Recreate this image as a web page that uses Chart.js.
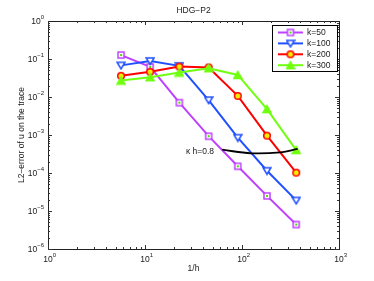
<!DOCTYPE html>
<html>
<head>
<meta charset="utf-8">
<script src="https://cdn.jsdelivr.net/npm/chart.js@4.4.0/dist/chart.umd.min.js"></script>
<style>
  html, body { margin: 0; padding: 0; background: #fff; }
  #wrap { width: 374px; height: 281px; }
</style>
</head>
<body>
<div id="wrap"><canvas id="chart" width="374" height="281"></canvas></div>
<script>
// 1/h values (mesh refinement)
const invH = [5.66, 11.3, 22.6, 45.3, 90.5, 181, 362];
// L2 error of u on the trace, per wavenumber
const errK50 = [0.127, 0.062, 0.0071, 0.00093, 0.00015, 0.000025, 0.0000044];
const errK100 = [0.068, 0.089, 0.066, 0.0083, 0.00085, 0.000115, 0.000019];
const errK200 = [0.036, 0.046, 0.063, 0.060, 0.0107, 0.00096, 0.000102];
const errK300 = [0.027, 0.033, 0.044, 0.057, 0.038, 0.0048, 0.00040];
// kappa*h = 0.8 curve
const khX = [62.5, 125, 250, 375];
const khY = [0.00041, 0.00033, 0.00035, 0.00043];
const seriesNames = ["k=50", "k=100", "k=200", "k=300"];
const xTicks = [1, 10, 100, 1000];
const yTicks = [1e-6, 1e-5, 1e-4, 1e-3, 1e-2, 1e-1, 1];

const FONT = "Liberation Sans, Arial, Helvetica, sans-serif";
const TXT = "#1a1a1a";

// marker images, MATLAB-ish
function makeMarker(kind) {
  const c = document.createElement("canvas");
  c.width = 10; c.height = 10;
  const g = c.getContext("2d");
  g.lineWidth = 1.5;
  if (kind == "square") {
    g.fillStyle = "#fff";
    g.fillRect(2, 2, 6, 6);
    g.strokeStyle = "#bf40ff";
    g.strokeRect(2, 2, 6, 6);
    g.fillStyle = "#50e000";
    g.fillRect(4, 4, 2, 2);
  } else if (kind == "down") {
    g.beginPath();
    g.moveTo(1, 2); g.lineTo(9, 2); g.lineTo(5, 8.5); g.closePath();
    g.fillStyle = "#fff"; g.fill();
    g.strokeStyle = "#2050ff"; g.stroke();
  } else if (kind == "circle") {
    g.beginPath();
    g.arc(5, 5, 3.3, 0, Math.PI * 2);
    g.fillStyle = "#f0f000"; g.fill();
    g.strokeStyle = "#ff0000"; g.stroke();
  } else {
    g.beginPath();
    g.moveTo(1, 8.5); g.lineTo(9, 8.5); g.lineTo(5, 1.5); g.closePath();
    g.fillStyle = "#70ff10"; g.fill();
    g.strokeStyle = "#70ff10"; g.stroke();
  }
  return c;
}
const markers = [makeMarker("square"), makeMarker("down"), makeMarker("circle"), makeMarker("up")];
const colors = ["#bf40ff", "#2050ff", "#ff0000", "#70ff10"];
const allErr = [errK50, errK100, errK200, errK300];

const toPts = (xs, ys) => xs.map((x, i) => ({ x: x, y: ys[i] }));

const datasets = allErr.map((ys, i) => ({
  label: seriesNames[i],
  data: toPts(invH, ys),
  borderColor: colors[i],
  borderWidth: 2,
  pointStyle: markers[i],
  pointRadius: 4,
  order: 4 - i,
}));
datasets.push({
  label: "kh",
  data: toPts(khX, khY),
  borderColor: "#000",
  borderWidth: 1.8,
  pointRadius: 0,
  tension: 0.4,
  order: 0,
});

// draws 10^e with a raised exponent
function drawPow(ctx, e, x, y, mode) {
  const base = "10";
  const ex = e < 0 ? "\u2212" + (-e) : String(e);
  ctx.font = "8.5px " + FONT;
  const wb = ctx.measureText(base).width;
  ctx.font = "6px " + FONT;
  const we = ctx.measureText(ex).width;
  let x0;
  if (mode == "right") x0 = x - wb - we;
  else x0 = x - wb / 2;
  ctx.textAlign = "left";
  ctx.textBaseline = "middle";
  ctx.font = "8.5px " + FONT;
  ctx.fillText(base, x0, y);
  ctx.font = "6px " + FONT;
  ctx.fillText(ex, x0 + wb, y - 4);
}

const matlabAxes = {
  id: "matlabAxes",
  afterDraw(chart) {
    const ctx = chart.ctx;
    const a = chart.chartArea;
    const xs = chart.scales.x, ys = chart.scales.y;
    ctx.save();
    // box
    ctx.strokeStyle = "#222";
    ctx.lineWidth = 1;
    ctx.strokeRect(Math.round(a.left) + 0.5, Math.round(a.top) + 0.5, Math.round(a.right - a.left), Math.round(a.bottom - a.top));
    // inside ticks, major and minor
    ctx.strokeStyle = "#333";
    ctx.beginPath();
    for (let d = 0; d < 3; d++) {
      for (let m = 1; m < 10; m++) {
        const v = Math.pow(10, d) * m;
        const px = Math.round(xs.getPixelForValue(v)) + 0.5;
        const len = m == 1 ? 4 : 2;
        ctx.moveTo(px, a.bottom); ctx.lineTo(px, a.bottom - len);
        ctx.moveTo(px, a.top); ctx.lineTo(px, a.top + len);
      }
    }
    for (let d = -6; d < 0; d++) {
      for (let m = 1; m < 10; m++) {
        const v = Math.pow(10, d) * m;
        const py = Math.round(ys.getPixelForValue(v)) + 0.5;
        const len = m == 1 ? 4 : 2;
        ctx.moveTo(a.left, py); ctx.lineTo(a.left + len, py);
        ctx.moveTo(a.right, py); ctx.lineTo(a.right - len, py);
      }
    }
    ctx.stroke();
    // tick labels
    ctx.fillStyle = TXT;
    xTicks.forEach(v => drawPow(ctx, Math.round(Math.log10(v)), xs.getPixelForValue(v), a.bottom + 10.5, "center"));
    yTicks.forEach(v => drawPow(ctx, Math.round(Math.log10(v)), a.left - 4, ys.getPixelForValue(v) + 0.5, "right"));
    // titles
    ctx.textAlign = "center";
    ctx.textBaseline = "middle";
    ctx.font = "8.5px " + FONT;
    const cx = (a.left + a.right) / 2;
    ctx.fillText("HDG\u2212P2", cx, 11);
    ctx.fillText("1/h", cx, 268.5);
    ctx.save();
    ctx.translate(21.5, (a.top + a.bottom) / 2);
    ctx.rotate(-Math.PI / 2);
    ctx.fillText("L2\u2212error of u on the trace", 0, 0);
    ctx.restore();
    // kh annotation
    ctx.textAlign = "right";
    ctx.fillText("\u03ba h=0.8", 214, 151.5);
    // legend
    const lx = 272, ly = 25, lw = 65, lh = 46;
    ctx.fillStyle = "#fff";
    ctx.fillRect(lx, ly, lw, lh);
    ctx.strokeStyle = "#000";
    ctx.strokeRect(lx + 0.5, ly + 0.5, lw, lh);
    seriesNames.forEach((name, i) => {
      const y = ly + 7.5 + i * 10.9;
      ctx.strokeStyle = colors[i];
      ctx.lineWidth = 2;
      ctx.beginPath();
      ctx.moveTo(278, y); ctx.lineTo(303, y);
      ctx.stroke();
      ctx.drawImage(markers[i], 290.5 - 5, y - 5);
      ctx.fillStyle = TXT;
      ctx.textAlign = "left";
      ctx.font = "8.5px " + FONT;
      ctx.fillText(name, 307, y + 0.5);
    });
    ctx.restore();
  },
};

const config = {
  type: "line",
  data: { datasets },
  options: {
    responsive: false,
    animation: false,
    layout: { padding: { left: 0, right: 35, top: 21, bottom: 0 } },
    plugins: { legend: { display: false }, tooltip: { enabled: false }, title: { display: false } },
    scales: {
      x: {
        type: "logarithmic", min: 1, max: 1000,
        grid: { display: false }, border: { display: false },
        ticks: { display: false },
        afterFit: (s) => { s.height = 32; },
      },
      y: {
        type: "logarithmic", min: 1e-6, max: 1,
        grid: { display: false }, border: { display: false },
        ticks: { display: false },
        afterFit: (s) => { s.width = 48; },
      },
    },
  },
  plugins: [matlabAxes],
};
new Chart(document.getElementById("chart"), config);
</script>
</body>
</html>
